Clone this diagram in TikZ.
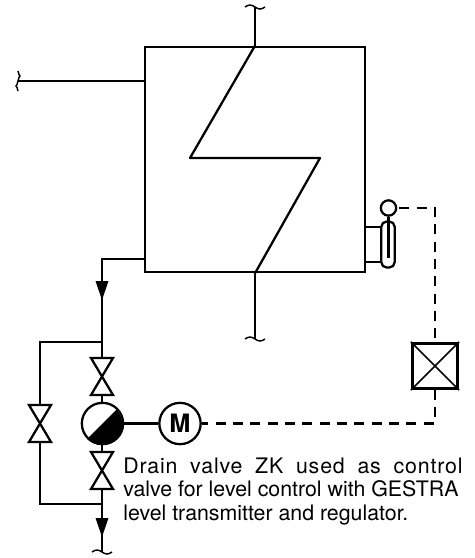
\documentclass[tikz,border=0pt]{standalone}
\usepackage{fontspec}
\setmainfont{TeX Gyre Heros}
\tikzset{
	pipe/.style={line width=1.7pt},
	signal/.style={line width=1.7pt,dash pattern=on 7.5pt off 5.5pt},
	wave/.style={line width=1.1pt},
	flow/.style={fill=black,draw=none},
	motor/.style={circle,draw,line width=1.7pt,inner sep=0,minimum size=31pt,font=\bfseries\fontsize{19}{19}\selectfont},
	regulator/.style={draw,line width=2.2pt,inner sep=0,minimum size=34pt}
}
\begin{document}
\begin{tikzpicture}[x=0.75pt,y=-0.75pt]
\useasboundingbox (0,0) rectangle (475,558);

%Behaelter
\node[draw,line width=1.7pt,inner sep=0,minimum width=165pt,minimum height=169pt] (vessel) at (255,159.5) {};
\coordinate (top) at (255,7);
\coordinate (bottom) at (255,339);
\coordinate (steam) at (18,81);
\coordinate (steamin) at (145,81);
\coordinate (drain) at (145,259);
\coordinate (corner) at (102,259);
\draw[pipe] (vessel.north) -- (top);
\draw[pipe] (vessel.south) -- (bottom);
\draw[pipe] (steamin) -- (steam);
\draw[pipe] (drain) -- (corner) -- (102,358);
\draw[pipe,line join=round] (vessel.north) -- (190,158) -- (320,158) -- (vessel.south);

%Enden
\foreach \x/\y in
{
255/7,
255/339,
102/552
}
{
	\draw[wave] (\x-10,\y) sin (\x-5,\y-2) cos (\x,\y) sin (\x+5,\y+2) cos (\x+10,\y);
}
\draw[wave] (18,71) sin (20,76) cos (18,81) sin (16,86) cos (18,91);

%Pfeile
\foreach \x/\y in
{
102/281,
102/518
}
{
	\fill[flow] (\x-6.5,\y) -- (\x+6.5,\y) -- (\x,\y+19) -- cycle;
}

%Ventile
\foreach \x/\y in
{
102/358,
40/405,
102/452
}
{
	\draw[pipe] (\x-11,\y) -- (\x+11,\y) -- (\x-11,\y+37) -- (\x+11,\y+37) -- cycle;
}

%Kugelhahn und Antrieb
\node[circle,draw,line width=1.7pt,inner sep=0,minimum size=31pt] (ball) at (102.5,423.5) {};
\fill (ball.225) arc[start angle=225,end angle=405,radius=15.5pt];
\node[motor] (drive) at (180,423.5) {M};
\draw[pipe] (ball.east) -- (drive.west);

%Bypass
\coordinate (upper) at (102,342);
\coordinate (lower) at (102,504);
\draw[pipe] (upper) -- (40,342) -- (40,405);
\draw[pipe] (40,442) -- (40,504) -- (lower);
\draw[pipe] (102,395) -- (ball.north -| 102,0);
\draw[pipe] (ball.south -| 102,0) -- (102,452);
\draw[pipe] (102,489) -- (102,552);

%Niveau
\node[circle,draw,line width=1.7pt,inner sep=0,minimum size=11.5pt] (probe) at (388.5,208) {};
\node[draw,rounded corners=4pt,line width=1.7pt,inner sep=0,minimum width=10pt,minimum height=34.5pt] (gauge) at (388,244.5) {};
\draw[pipe] (probe.south) -- (388.5,258);
\draw[pipe] (365,227) -- (382,227);
\draw[pipe] (365,262) -- (382,262);

%Regler
\node[regulator] (ctrl) at (435,366) {};
\draw[line width=1.1pt] (ctrl.north west) -- (ctrl.south east);
\draw[line width=1.1pt] (ctrl.north east) -- (ctrl.south west);
\draw[signal] (probe.east) ++(2,0) -- (435,208) -- (ctrl.north);
\draw[signal] (ctrl.south) -- (435,423.5) -- (drive.east);

\node[anchor=north west,inner sep=0,align=left,font=\fontsize{16}{17.6}\selectfont] (note) at (123,457.5)
{\makebox[254.5pt][s]{\addfontfeatures{LetterSpace=4}Drain valve ZK used as control}\\valve for level control with GESTRA\\level transmitter and regulator.};
\end{tikzpicture}
\end{document}
